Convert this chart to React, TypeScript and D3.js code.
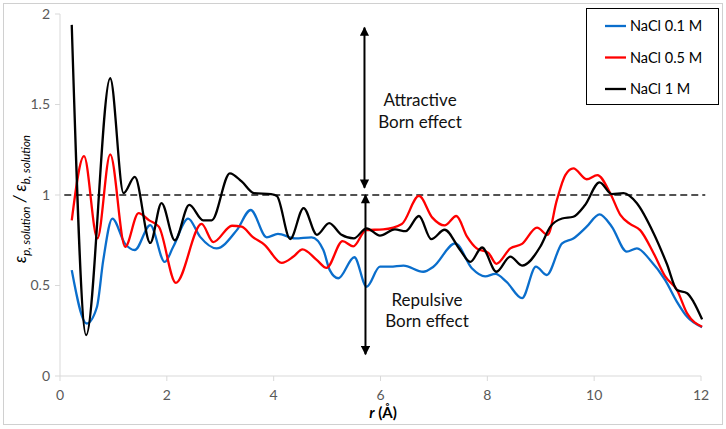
import React from "react";
import * as d3 from "d3";

const W = 726;
const H = 429;

const xTicks = [0, 2, 4, 6, 8, 10, 12];
const yTicks = [0, 0.5, 1, 1.5, 2];
const yTickLabels = ["0", "0.5", "1", "1.5", "2"];

const seriesNames = ["NaCl 0.1 M", "NaCl 0.5 M", "NaCl 1 M"];
const seriesColors = ["#0A6ECC", "#FF0000", "#000000"];

const blueR = [0.22, 0.5, 0.69, 0.81, 0.98, 1.22, 1.4, 1.69, 1.96, 2.12, 2.4, 2.62, 2.93, 3.31, 3.57, 3.87, 4.08, 4.4, 4.71, 4.93, 5.05, 5.21, 5.51, 5.74, 5.99, 6.18, 6.43, 6.8, 6.99, 7.4, 7.71, 7.96, 8.15, 8.36, 8.65, 8.91, 9.11, 9.4, 9.61, 9.86, 10.1, 10.33, 10.61, 10.8, 11.05, 11.33, 11.55, 11.74, 12.02];
const blueV = [0.585, 0.29, 0.38, 0.64, 0.87, 0.73, 0.696, 0.834, 0.63, 0.714, 0.87, 0.77, 0.705, 0.806, 0.917, 0.766, 0.785, 0.76, 0.766, 0.696, 0.585, 0.54, 0.656, 0.493, 0.604, 0.604, 0.61, 0.576, 0.604, 0.733, 0.595, 0.55, 0.564, 0.52, 0.43, 0.604, 0.558, 0.733, 0.76, 0.825, 0.893, 0.825, 0.687, 0.705, 0.64, 0.53, 0.41, 0.327, 0.27];

const redR = [0.22, 0.45, 0.7, 0.94, 1.22, 1.47, 1.67, 1.85, 2.17, 2.65, 2.87, 3.22, 3.4, 3.6, 3.83, 4.15, 4.37, 4.54, 4.81, 4.99, 5.29, 5.49, 5.73, 6.05, 6.4, 6.72, 6.97, 7.2, 7.42, 7.62, 7.8, 8.02, 8.17, 8.43, 8.65, 8.93, 9.13, 9.3, 9.46, 9.61, 9.86, 10.06, 10.3, 10.49, 10.67, 10.86, 11.11, 11.33, 11.55, 11.74, 12.02];
const redV = [0.86, 1.215, 0.76, 1.225, 0.714, 0.9, 0.86, 0.825, 0.515, 0.84, 0.74, 0.83, 0.825, 0.77, 0.725, 0.625, 0.66, 0.7, 0.64, 0.597, 0.745, 0.716, 0.806, 0.81, 0.84, 0.995, 0.875, 0.832, 0.884, 0.77, 0.705, 0.68, 0.62, 0.705, 0.73, 0.82, 0.78, 0.97, 1.11, 1.147, 1.087, 1.11, 1.01, 0.89, 0.84, 0.806, 0.68, 0.55, 0.475, 0.346, 0.272];

const blackR = [0.22, 0.49, 0.94, 1.19, 1.4, 1.69, 1.9, 2.15, 2.42, 2.68, 2.84, 3.18, 3.4, 3.63, 3.95, 4.06, 4.31, 4.56, 4.81, 5.04, 5.27, 5.5, 5.74, 5.99, 6.27, 6.47, 6.72, 6.95, 7.2, 7.49, 7.68, 7.9, 8.17, 8.43, 8.65, 8.99, 9.18, 9.4, 9.61, 9.83, 10.1, 10.33, 10.55, 10.8, 11.11, 11.36, 11.55, 11.74, 11.86, 12.02];
const blackV = [1.94, 0.226, 1.645, 1.01, 1.1, 0.735, 0.955, 0.75, 0.945, 0.86, 0.86, 1.12, 1.075, 1.01, 1.005, 0.995, 0.757, 0.928, 0.78, 0.845, 0.78, 0.76, 0.816, 0.776, 0.81, 0.8, 0.884, 0.756, 0.808, 0.696, 0.63, 0.71, 0.576, 0.66, 0.61, 0.714, 0.825, 0.87, 0.88, 0.945, 1.07, 1.005, 1.01, 0.954, 0.79, 0.62, 0.475, 0.457, 0.41, 0.313];

const seriesR = [blueR, redR, blackR];
const seriesV = [blueV, redV, blackV];

const refLineR = [0.08, 12.08];
const refLineV = 1;

// annotation arrows in data units: [yStart, yEnd]
const arrowX = 5.7;
const attractiveArrow = [1.925, 1.04];
const repulsiveArrow = [1.0, 0.12];
const attractiveText = ["Attractive", "Born effect"];
const repulsiveText = ["Repulsive", "Born effect"];

const FONT = "Lato, 'Open Sans', sans-serif";

export default function App() {
  const x = d3.scaleLinear().domain([0, 12]).range([60, 701]);
  const y = d3.scaleLinear().domain([0, 2]).range([376, 14]);

  const line = d3
    .line<[number, number]>()
    .x((d) => x(d[0]))
    .y((d) => y(d[1]))
    .curve(d3.curveMonotoneX);

  const paths = seriesR.map((rs, i) =>
    line(rs.map((r, j) => [r, seriesV[i][j]] as [number, number]))
  );

  const ax = x(arrowX);

  return (
    <svg
      width={W}
      height={H}
      style={{ position: "absolute", left: 0, top: 0, background: "#fff" }}
      fontFamily={FONT}
    >
      <defs>
        <marker id="ah" viewBox="0 0 10 10" refX="9" refY="5" markerWidth="5" markerHeight="4.6" orient="auto-start-reverse" markerUnits="strokeWidth">
          <path d="M0,0 L10,5 L0,10 z" fill="#000" />
        </marker>
      </defs>
      <rect x={3.5} y={3.5} width={719} height={421} fill="#fff" stroke="#d0d0d0" strokeWidth={1} />

      {/* axes */}
      <line x1={x(0)} x2={x(0)} y1={y(2)} y2={y(0)} stroke="#d9d9d9" strokeWidth={1} />
      <line x1={x(0)} x2={x(12)} y1={y(0)} y2={y(0)} stroke="#d9d9d9" strokeWidth={1} />
      {yTicks.map((t, i) => (
        <g key={"yt" + i}>
          <line x1={x(0) - 5} x2={x(0)} y1={y(t)} y2={y(t)} stroke="#d9d9d9" />
          <text x={50} y={y(t)} dy="0.35em" textAnchor="end" fontSize={14} fill="#595959">
            {yTickLabels[i]}
          </text>
        </g>
      ))}
      {xTicks.map((t, i) => (
        <g key={"xt" + i}>
          <line x1={x(t)} x2={x(t)} y1={y(0)} y2={y(0) + 5} stroke="#d9d9d9" />
          <text x={x(t)} y={395} dy="0.35em" textAnchor="middle" fontSize={14} fill="#595959">
            {String(t)}
          </text>
        </g>
      ))}

      {/* axis titles */}
      <text x={383} y={418} textAnchor="middle" fontSize={15} fontWeight="bold" fill="#000">
        <tspan fontStyle="italic">r</tspan>
        <tspan> (Å)</tspan>
      </text>
      <text transform="translate(26,199) rotate(-90)" textAnchor="middle" fontSize={17} fontStyle="italic" fill="#000">
        <tspan>ε</tspan>
        <tspan fontSize={11.5} dy={4}>p, solution</tspan>
        <tspan dy={-4}> / ε</tspan>
        <tspan fontSize={11.5} dy={4}>b, solution</tspan>
      </text>

      {/* reference dashed line */}
      <line
        x1={x(refLineR[0])}
        x2={x(refLineR[1])}
        y1={y(refLineV)}
        y2={y(refLineV)}
        stroke="#1a1a1a"
        strokeWidth={1.5}
        strokeDasharray="7,4"
      />

      {/* series */}
      {paths.map((p, i) => (
        <path key={"s" + i} d={p || ""} fill="none" stroke={seriesColors[i]} strokeWidth={2.3} strokeLinejoin="round" />
      ))}

      {/* arrows */}
      <line x1={ax} x2={ax} y1={y(attractiveArrow[0])} y2={y(attractiveArrow[1])} stroke="#000" strokeWidth={2} markerStart="url(#ah)" markerEnd="url(#ah)" />
      <line x1={ax + 1} x2={ax + 1} y1={y(repulsiveArrow[0])} y2={y(repulsiveArrow[1])} stroke="#000" strokeWidth={2} markerStart="url(#ah)" markerEnd="url(#ah)" />

      <text x={420} y={100} dy="0.35em" textAnchor="middle" fontSize={17} fill="#111">{attractiveText[0]}</text>
      <text x={420} y={122} dy="0.35em" textAnchor="middle" fontSize={17} fill="#111">{attractiveText[1]}</text>
      <text x={427} y={300} dy="0.35em" textAnchor="middle" fontSize={17} fill="#111">{repulsiveText[0]}</text>
      <text x={427} y={321} dy="0.35em" textAnchor="middle" fontSize={17} fill="#111">{repulsiveText[1]}</text>

      {/* legend */}
      <rect x={586.5} y={8.5} width={132} height={96} fill="#fff" stroke="#000" strokeWidth={1} />
      {seriesNames.map((n, i) => (
        <g key={"lg" + i}>
          <line x1={605} x2={626} y1={26 + i * 31.5} y2={26 + i * 31.5} stroke={seriesColors[i]} strokeWidth={2.3} />
          <text x={630} y={26 + i * 31.5} dy="0.35em" fontSize={14.5} fill="#000">{n}</text>
        </g>
      ))}
    </svg>
  );
}
